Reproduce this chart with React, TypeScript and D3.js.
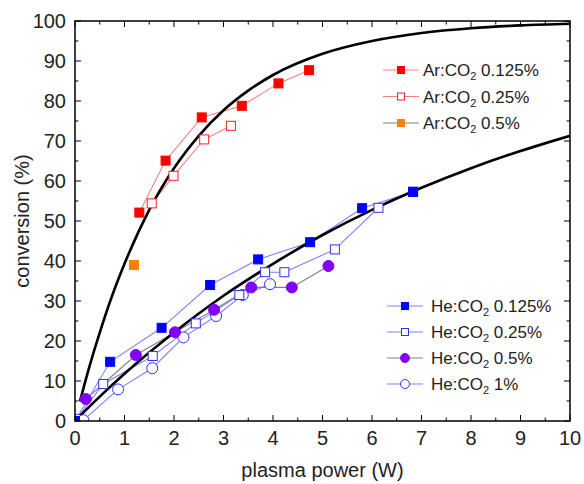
import React from "react";
import * as d3 from "d3";

// ---- data ----
const xTicks = [0, 1, 2, 3, 4, 5, 6, 7, 8, 9, 10];
const yTicks = [0, 10, 20, 30, 40, 50, 60, 70, 80, 90, 100];

const arCO2_0125_power = [1.30, 1.83, 2.56, 3.37, 4.11, 4.73];
const arCO2_0125_conv = [52.1, 65.1, 75.9, 78.8, 84.4, 87.7];

const arCO2_025_power = [1.55, 1.99, 2.61, 3.15];
const arCO2_025_conv = [54.4, 61.3, 70.4, 73.8];

const arCO2_05_power = [1.19];
const arCO2_05_conv = [39.0];

const heCO2_0125_power = [0, 0.71, 1.75, 2.73, 3.70, 4.75, 5.80, 6.83];
const heCO2_0125_conv = [0, 14.8, 23.3, 34.0, 40.4, 44.7, 53.2, 57.3];

const heCO2_025_power = [0, 0.57, 1.57, 2.44, 3.32, 3.84, 4.23, 5.25, 6.13, 6.83];
const heCO2_025_conv = [0, 9.25, 16.25, 24.4, 31.5, 37.2, 37.2, 42.9, 53.3, 57.3];

const heCO2_05_power = [0.22, 1.23, 2.02, 2.81, 3.56, 4.38, 5.12];
const heCO2_05_conv = [5.5, 16.5, 22.2, 27.8, 33.4, 33.4, 38.75];

const heCO2_1_power = [0.05, 0.17, 0.87, 1.56, 2.19, 2.85, 3.39, 3.94];
const heCO2_1_conv = [0.3, 0.2, 7.9, 13.2, 20.9, 26.25, 31.5, 34.2];

// black model curves
const upperCurve_power = [0.1, 0.25, 0.5, 0.75, 1, 1.5, 2, 2.5, 3, 3.5, 4, 5, 6, 7, 8, 9, 10];
const upperCurve_conv = [4.9, 11.8, 22.1, 31.3, 39.3, 52.8, 63.2, 71.3, 77.7, 82.6, 86.5, 91.8, 95.0, 97.0, 98.2, 98.9, 99.3];

const lowerCurve_power = [0.06, 0.5, 1, 2, 3, 4, 5, 6, 7, 8, 9, 10];
const lowerCurve_conv = [0.8, 6.1, 11.8, 22.1, 31.3, 39.3, 46.5, 52.8, 58.3, 63.2, 67.5, 71.3];

type Marker = "square" | "circle";
interface Series {
  gas: string;
  pct: string;
  power: number[];
  conv: number[];
  marker: Marker;
  filled: boolean;
  color: string;
  lineColor: string;
}

const arSeries: Series[] = [
  { gas: "Ar:CO", pct: "0.125%", power: arCO2_0125_power, conv: arCO2_0125_conv, marker: "square", filled: true, color: "#ff0000", lineColor: "#ff8080" },
  { gas: "Ar:CO", pct: "0.25%", power: arCO2_025_power, conv: arCO2_025_conv, marker: "square", filled: false, color: "#ff2020", lineColor: "#ff8080" },
  { gas: "Ar:CO", pct: "0.5%", power: arCO2_05_power, conv: arCO2_05_conv, marker: "square", filled: true, color: "#ff8000", lineColor: "#808080" },
];
const heSeries: Series[] = [
  { gas: "He:CO", pct: "0.125%", power: heCO2_0125_power, conv: heCO2_0125_conv, marker: "square", filled: true, color: "#0000ff", lineColor: "#8080ff" },
  { gas: "He:CO", pct: "0.25%", power: heCO2_025_power, conv: heCO2_025_conv, marker: "square", filled: false, color: "#3030ff", lineColor: "#8080ff" },
  { gas: "He:CO", pct: "0.5%", power: heCO2_05_power, conv: heCO2_05_conv, marker: "circle", filled: true, color: "#8000ff", lineColor: "#808080" },
  { gas: "He:CO", pct: "1%", power: heCO2_1_power, conv: heCO2_1_conv, marker: "circle", filled: false, color: "#3030ff", lineColor: "#8080ff" },
];

const W = 584;
const H = 484;
const M = { left: 75, right: 570, top: 21, bottom: 421 };
const FONT = "'Liberation Sans', Arial, Helvetica, sans-serif";

function MarkerShape({ s, cx, cy, size }: { s: Series; cx: number; cy: number; size: number }) {
  const fill = s.filled ? s.color : "#ffffff";
  if (s.marker === "square") {
    return (
      <rect
        x={cx - size / 2}
        y={cy - size / 2}
        width={size}
        height={size}
        fill={fill}
        stroke={s.color}
        strokeWidth={1}
      />
    );
  }
  return <circle cx={cx} cy={cy} r={size / 2 + 0.5} fill={fill} stroke={s.color} strokeWidth={1} />;
}

export default function App() {
  const x = d3.scaleLinear().domain([0, 10]).range([M.left, M.right]);
  const y = d3.scaleLinear().domain([0, 100]).range([M.bottom, M.top]);
  const line = d3
    .line<[number, number]>()
    .x((d) => x(d[0]))
    .y((d) => y(d[1]));
  const smooth = d3
    .line<[number, number]>()
    .x((d) => x(d[0]))
    .y((d) => y(d[1]))
    .curve(d3.curveMonotoneX);

  const pts = (s: Series) => s.power.map((p, i) => [p, s.conv[i]] as [number, number]);
  const upper = upperCurve_power.map((p, i) => [p, upperCurve_conv[i]] as [number, number]);
  const lower = lowerCurve_power.map((p, i) => [p, lowerCurve_conv[i]] as [number, number]);

  const xMinor = d3.range(0, 10.01, 0.5);
  const yMinor = d3.range(0, 100.01, 5);

  const drawOrder = [heSeries[3], heSeries[2], heSeries[1], heSeries[0], arSeries[1], arSeries[0], arSeries[2]];

  const legendRow = (s: Series, i: number, y0: number, dy: number, lx0: number, lx1: number, tx: number) => {
    const cy = y0 + i * dy;
    return (
      <g key={s.gas + s.pct}>
        <line x1={lx0} x2={lx1} y1={cy} y2={cy} stroke={s.lineColor} strokeWidth={1.2} />
        <MarkerShape s={s} cx={(lx0 + lx1) / 2} cy={cy} size={s.marker === "square" ? 7 : 8} />
        <text x={tx} y={cy + 6} fontSize={17} fontFamily={FONT} fill="#222">
          {s.gas}
          <tspan fontSize={11} dy={4}>2</tspan>
          <tspan dy={-4}> {s.pct}</tspan>
        </text>
      </g>
    );
  };

  return (
    <svg width={W} height={H} style={{ position: "absolute", left: 0, top: 0, background: "#fff" }}>
      <defs>
        <clipPath id="plotClip">
          <rect x={M.left} y={M.top} width={M.right - M.left} height={M.bottom - M.top} />
        </clipPath>
      </defs>

      {/* ticks (inward, all four sides) */}
      <g stroke="#000" strokeWidth={1}>
        {xMinor.map((v) => {
          const major = Math.abs(v - Math.round(v)) < 1e-6;
          const len = major ? 6 : 3.5;
          return (
            <g key={"xt" + v}>
              <line x1={x(v)} x2={x(v)} y1={M.bottom} y2={M.bottom - len} />
              <line x1={x(v)} x2={x(v)} y1={M.top} y2={M.top + len} />
            </g>
          );
        })}
        {yMinor.map((v) => {
          const major = v % 10 === 0;
          const len = major ? 6 : 3.5;
          return (
            <g key={"yt" + v}>
              <line x1={M.left} x2={M.left + len} y1={y(v)} y2={y(v)} />
              <line x1={M.right} x2={M.right - len} y1={y(v)} y2={y(v)} />
            </g>
          );
        })}
      </g>

      {/* data */}
      <g clipPath="url(#plotClip)">
        {drawOrder.map((s) =>
          s.power.length > 1 ? (
            <path key={"l" + s.gas + s.pct} d={line(pts(s)) || ""} fill="none" stroke={s.lineColor} strokeWidth={1.1} />
          ) : null
        )}
        <path d={smooth(upper) || ""} fill="none" stroke="#000" strokeWidth={2.6} />
        <path d={smooth(lower) || ""} fill="none" stroke="#000" strokeWidth={2.6} />
        {drawOrder.map((s) =>
          pts(s).map((d, i) => (
            <MarkerShape
              key={"m" + s.gas + s.pct + i}
              s={s}
              cx={x(d[0])}
              cy={y(d[1])}
              size={s.marker === "square" ? 9 : 10}
            />
          ))
        )}
      </g>

      {/* frame */}
      <rect x={M.left} y={M.top} width={M.right - M.left} height={M.bottom - M.top} fill="none" stroke="#000" strokeWidth={1.5} />

      {/* tick labels */}
      <g fontFamily={FONT} fontSize={20} fill="#222">
        {xTicks.map((v) => (
          <text key={"xl" + v} x={x(v)} y={M.bottom + 24} textAnchor="middle">
            {v}
          </text>
        ))}
        {yTicks.map((v) => (
          <text key={"yl" + v} x={M.left - 9} y={y(v) + 7} textAnchor="end">
            {v}
          </text>
        ))}
      </g>

      {/* axis titles */}
      <text x={(M.left + M.right) / 2} y={477} textAnchor="middle" fontFamily={FONT} fontSize={20} fill="#222">
        plasma power (W)
      </text>
      <text
        transform={`translate(29, ${(M.top + M.bottom) / 2}) rotate(-90)`}
        textAnchor="middle"
        fontFamily={FONT}
        fontSize={20}
        fill="#222"
      >
        conversion (%)
      </text>

      {/* legends */}
      {arSeries.map((s, i) => legendRow(s, i, 70, 26.5, 383, 419, 423))}
      {heSeries.map((s, i) => legendRow(s, i, 306, 26, 387, 423, 431))}
    </svg>
  );
}
